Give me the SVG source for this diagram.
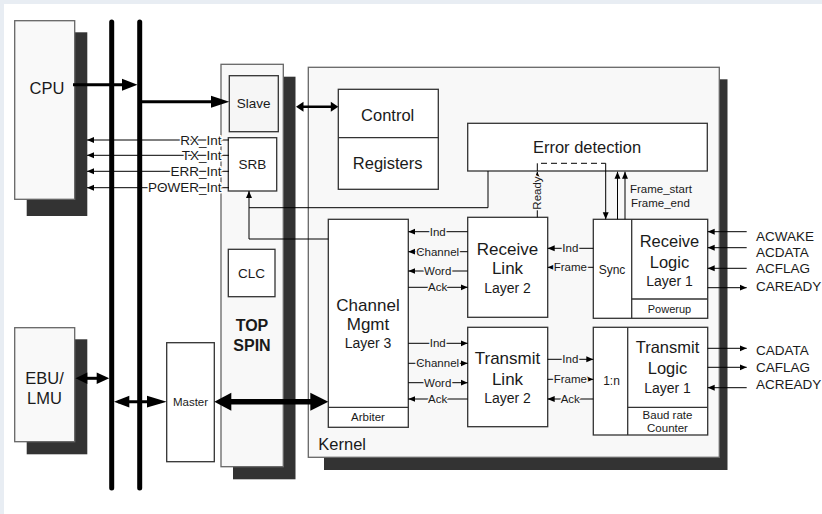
<svg xmlns="http://www.w3.org/2000/svg" width="822" height="514" viewBox="0 0 822 514">
<defs>
<marker id="ah" viewBox="0 0 8 8" refX="8" refY="4" markerWidth="7" markerHeight="7" markerUnits="userSpaceOnUse" orient="auto-start-reverse">
<path d="M0,0.6 L8,4 L0,7.4 z" fill="#000"/>
</marker>
<style>
text{font-family:"Liberation Sans",Arial,sans-serif;fill:#1a1a1a}
.box{fill:#fff;stroke:#333;stroke-width:1.3}
.outer{fill:#f8f8f8;stroke:#666;stroke-width:1.3}
.sh{fill:#333}
.div{stroke:#333;stroke-width:1.3}
.sig{stroke:#000;stroke-width:1;fill:none}
.arr{marker-end:url(#ah)}
.big{font-size:16.5px;text-anchor:middle}
.mid{font-size:14px;text-anchor:middle}
.m13{font-size:13.5px;text-anchor:middle}
.sm{font-size:11.5px;text-anchor:middle}
.lbl{font-size:11.5px;text-anchor:middle;stroke:#f8f8f8;stroke-width:3;paint-order:stroke}
.int{font-size:13.5px;text-anchor:end;stroke:#fff;stroke-width:3;paint-order:stroke}
.io{font-size:13.5px}
.bus{stroke:#000;stroke-width:5;stroke-linecap:round}
.thick{stroke:#000;fill:none}
</style>
</defs>
<rect width="822" height="514" fill="#e8edf3"/>
<rect x="4" y="4" width="818" height="510" fill="#fff"/>

<g id="cpu">
<rect class="sh" x="26.7" y="32.3" width="60.6" height="183.7"/>
<rect x="14.7" y="20.7" width="60" height="178.6" fill="#f9f9f9" stroke="#666" stroke-width="1.3"/>
<text class="big" x="47" y="94.3">CPU</text>
</g>

<g id="ebu-lmu">
<rect class="sh" x="26.7" y="339.3" width="60.6" height="115"/>
<rect x="14.7" y="327.7" width="60" height="114" fill="#f9f9f9" stroke="#666" stroke-width="1.3"/>
<text class="big" x="44.5" y="384.3">EBU/</text>
<text class="big" x="44.5" y="403.7">LMU</text>
</g>

<g id="buses">
<line class="bus" x1="111.7" y1="22" x2="111.7" y2="488"/>
<line class="bus" x1="139.7" y1="22" x2="139.7" y2="488"/>
</g>

<g id="master">
<rect class="box" x="166.7" y="342.7" width="47.6" height="119"/>
<text class="sm" x="190.5" y="405.8">Master</text>
</g>

<g id="topspin">
<rect class="sh" x="233" y="76.7" width="62.5" height="402.6"/>
<rect class="outer" x="221" y="64.3" width="62.3" height="402.4"/>
<text x="252" y="331" font-size="16px" font-weight="bold" text-anchor="middle">TOP</text>
<text x="252" y="351" font-size="16px" font-weight="bold" text-anchor="middle">SPIN</text>
</g>

<g id="slave">
<rect x="229.3" y="75.7" width="49" height="56" fill="#f6f6f6" stroke="#333" stroke-width="1.3"/>
<text class="m13" x="253.7" y="108.3">Slave</text>
</g>

<g id="srb">
<rect class="box" x="228.3" y="137.7" width="48.4" height="53.3"/>
<text class="m13" x="252.5" y="169">SRB</text>
</g>

<g id="clc">
<rect class="box" x="228.3" y="249.3" width="46.7" height="47.4"/>
<text class="m13" x="251.5" y="278.3">CLC</text>
</g>

<g id="kernel">
<rect class="sh" x="324" y="79.3" width="403.5" height="390.7"/>
<rect class="outer" x="308.3" y="67.3" width="411" height="390"/>
<text x="318.3" y="450" font-size="16.5px">Kernel</text>
</g>

<g id="control-registers">
<rect class="box" x="338.3" y="89.3" width="100" height="100"/>
<line class="div" x1="338.3" y1="137.7" x2="438.3" y2="137.7"/>
<text class="big" x="387.7" y="120.5">Control</text>
<text class="big" x="387.7" y="169">Registers</text>
</g>

<g id="error-detection">
<rect class="box" x="467.7" y="123.3" width="239.6" height="47.7"/>
<text class="big" x="587" y="153.3">Error detection</text>
</g>

<g id="channel-mgmt">
<rect class="box" x="328.3" y="219.3" width="80" height="208"/>
<line class="div" x1="328.3" y1="407.3" x2="408.3" y2="407.3"/>
<text x="368" y="310.7" font-size="17px" text-anchor="middle">Channel</text>
<text x="368" y="330.3" font-size="17px" text-anchor="middle">Mgmt</text>
<text class="mid" x="368" y="348.3">Layer 3</text>
<text class="sm" x="368" y="420.7">Arbiter</text>
</g>

<g id="receive-link">
<rect class="box" x="467.7" y="217.3" width="80" height="100"/>
<text x="507.5" y="255" font-size="17px" text-anchor="middle">Receive</text>
<text x="507.5" y="274.3" font-size="17px" text-anchor="middle">Link</text>
<text class="mid" x="507.5" y="292.7">Layer 2</text>
</g>

<g id="transmit-link">
<rect class="box" x="467.7" y="327.3" width="80" height="99.4"/>
<text x="507.5" y="364.3" font-size="17px" text-anchor="middle">Transmit</text>
<text x="507.5" y="385" font-size="17px" text-anchor="middle">Link</text>
<text class="mid" x="507.5" y="402.7">Layer 2</text>
</g>

<g id="receive-logic">
<rect class="box" x="593.3" y="219.3" width="114.4" height="99"/>
<line class="div" x1="631.7" y1="219.3" x2="631.7" y2="318.3"/>
<line class="div" x1="631.7" y1="299" x2="707.7" y2="299"/>
<text x="612" y="274" font-size="12px" text-anchor="middle">Sync</text>
<text x="669.5" y="247.3" font-size="16.5px" text-anchor="middle">Receive</text>
<text x="669.5" y="267.7" font-size="16.5px" text-anchor="middle">Logic</text>
<text class="mid" x="669.5" y="286">Layer 1</text>
<text x="669.5" y="313" font-size="11px" text-anchor="middle">Powerup</text>
</g>

<g id="transmit-logic">
<rect class="box" x="593.3" y="327.3" width="114.4" height="107.7"/>
<line class="div" x1="627.7" y1="327.3" x2="627.7" y2="435"/>
<line class="div" x1="627.7" y1="407.3" x2="707.7" y2="407.3"/>
<text x="611.5" y="385" font-size="12px" text-anchor="middle">1:n</text>
<text x="667.5" y="353.3" font-size="16.5px" text-anchor="middle">Transmit</text>
<text x="667.5" y="374.3" font-size="16.5px" text-anchor="middle">Logic</text>
<text class="mid" x="667.5" y="392.7">Layer 1</text>
<text x="667.5" y="419.3" font-size="11.5px" text-anchor="middle">Baud rate</text>
<text x="667.5" y="431.7" font-size="11.5px" text-anchor="middle">Counter</text>
</g>

<g id="connectors">
<line class="thick" x1="73" y1="84.7" x2="124" y2="84.7" stroke-width="3"/>
<path d="M122,78.7 L137.5,84.7 L122,90.7 z"/>
<line class="thick" x1="140" y1="101.7" x2="213" y2="101.7" stroke-width="3"/>
<path d="M211,95.7 L229.3,101.7 L211,107.7 z"/>
<line class="thick" x1="300" y1="106.7" x2="334" y2="106.7" stroke-width="2.5"/>
<path d="M296,106.7 L303.5,101.7 L303.5,111.7 z"/>
<path d="M338.3,106.7 L330.8,101.7 L330.8,111.7 z"/>
<line class="thick" x1="80" y1="378.3" x2="105" y2="378.3" stroke-width="3"/>
<path d="M75.5,378.3 L87.3,372.6 L87.3,384 z"/>
<path d="M109.2,378.3 L96.7,372.6 L96.7,384 z"/>
<line class="thick" x1="118" y1="401.7" x2="160" y2="401.7" stroke-width="3"/>
<path d="M114,401.7 L129.3,395.8 L129.3,407.6 z"/>
<path d="M166.7,401.7 L147,395.8 L147,407.6 z"/>
<line class="thick" x1="225" y1="401.7" x2="318" y2="401.7" stroke-width="5.5"/>
<path d="M214.3,401.7 L231.3,392.7 L231.3,410.7 z"/>
<path d="M328.3,401.7 L310.3,392.7 L310.3,410.7 z"/>

<path class="sig arr" d="M229,140 H87"/>
<path class="sig arr" d="M229,155.3 H87"/>
<path class="sig arr" d="M229,171.3 H87"/>
<path class="sig arr" d="M229,187.7 H87"/>

<path class="sig" d="M488,171 V207.7 H249"/>
<path class="sig arr" d="M328.3,239 H249 V191"/>

<path class="sig arr" d="M537.3,217.3 V171.7"/>
<path class="sig" d="M537.3,171 V163.3"/>
<path class="sig" d="M541,163.3 H605.7" stroke-dasharray="6,4"/>
<path class="sig arr" d="M605.7,163.3 V219.3"/>
<path class="sig arr" d="M617.5,219.3 V171.7"/>
<path class="sig arr" d="M625,219.3 V171.7"/>

<path class="sig arr" d="M467.7,231.7 H408.3"/>
<path class="sig arr" d="M467.7,251.7 H408.3"/>
<path class="sig arr" d="M467.7,271 H408.3"/>
<path class="sig arr" d="M408.3,287.3 H467.7"/>
<path class="sig arr" d="M408.3,343.3 H467.7"/>
<path class="sig arr" d="M408.3,363.3 H467.7"/>
<path class="sig arr" d="M408.3,382.7 H467.7"/>
<path class="sig arr" d="M467.7,399 H408.3"/>
<path class="sig arr" d="M593.3,248.3 H547.7"/>
<path class="sig arr" d="M593.3,267.3 H547.7"/>
<path class="sig arr" d="M547.7,359.3 H593.3"/>
<path class="sig arr" d="M547.7,379.3 H593.3"/>
<path class="sig arr" d="M593.3,399 H547.7"/>
<path class="sig arr" d="M746.7,231.7 H707.7"/>
<path class="sig arr" d="M746.7,247.7 H707.7"/>
<path class="sig arr" d="M746.7,268.3 H707.7"/>
<path class="sig arr" d="M707.7,287.7 H746.7"/>
<path class="sig arr" d="M707.7,348.3 H746.7"/>
<path class="sig arr" d="M707.7,367.3 H746.7"/>
<path class="sig arr" d="M746.7,387.7 H707.7"/>

<text class="int" x="221.5" y="144.7">RX_Int</text>
<text class="int" x="221.5" y="160">TX_Int</text>
<text class="int" x="221.5" y="176">ERR_Int</text>
<text class="int" x="221.5" y="192.4">POWER_Int</text>

<text class="lbl" transform="translate(541,193) rotate(-90)">Ready</text>
<text x="630" y="192.5" font-size="11.5px">Frame_start</text>
<text x="631" y="206.5" font-size="11.5px">Frame_end</text>

<text class="lbl" x="437.7" y="235.7">Ind</text>
<text class="lbl" x="437.7" y="255.7">Channel</text>
<text class="lbl" x="437.7" y="275">Word</text>
<text class="lbl" x="437.7" y="291.3">Ack</text>
<text class="lbl" x="437.7" y="347.3">Ind</text>
<text class="lbl" x="437.7" y="367.3">Channel</text>
<text class="lbl" x="437.7" y="386.7">Word</text>
<text class="lbl" x="437.7" y="403">Ack</text>

<text class="lbl" x="570.3" y="252.3">Ind</text>
<text class="lbl" x="570.3" y="271.3">Frame</text>
<text class="lbl" x="570.3" y="363.3">Ind</text>
<text class="lbl" x="570.3" y="383.3">Frame</text>
<text class="lbl" x="570.3" y="403">Ack</text>

<text class="io" x="756" y="240.7">ACWAKE</text>
<text class="io" x="756" y="257">ACDATA</text>
<text class="io" x="756" y="273.3">ACFLAG</text>
<text class="io" x="756" y="291">CAREADY</text>
<text class="io" x="756" y="355">CADATA</text>
<text class="io" x="756" y="371.7">CAFLAG</text>
<text class="io" x="756" y="389.3">ACREADY</text>
</g>
</svg>
